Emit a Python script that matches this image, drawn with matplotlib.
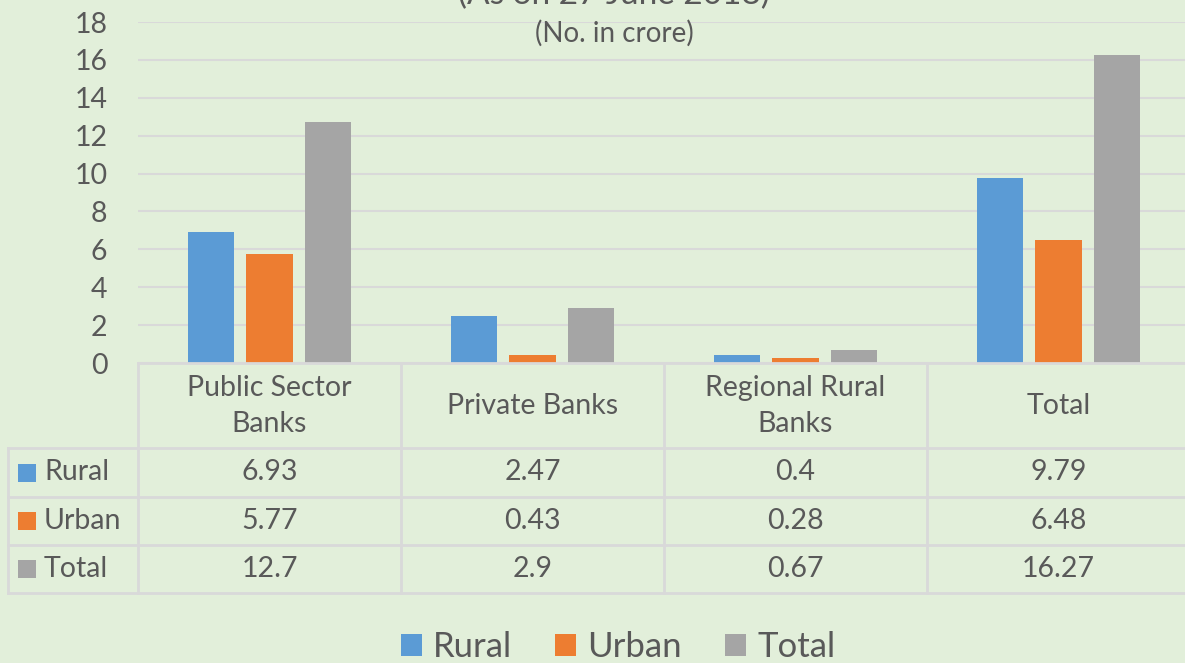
import matplotlib.pyplot as plt
from matplotlib.patches import Rectangle

# data (No. in crore)
categories = ["Public Sector\nBanks", "Private Banks", "Regional Rural\nBanks", "Total"]
series = ["Rural", "Urban", "Total"]
rural = [6.93, 2.47, 0.4, 9.79]
urban = [5.77, 0.43, 0.28, 6.48]
total = [12.7, 2.9, 0.67, 16.27]
yticks = [0, 2, 4, 6, 8, 10, 12, 14, 16, 18]
title = "(As on 27 June 2018)"
subtitle = "(No. in crore)"


def main():
    W, H = 1185, 663
    bg = "#E2EFDA"
    grid = "#D9D9D9"
    txt = "#595959"
    colors = ["#5B9BD5", "#ED7D31", "#A5A5A5"]
    values = [rural, urban, total]

    plt.rcParams['font.family'] = ['Lato', 'DejaVu Sans']

    fig = plt.figure(figsize=(W / 100, H / 100), dpi=100, facecolor=bg)

    # --- bar chart area ---
    ax = fig.add_axes([138 / W, (H - 363) / H, 1052 / W, (363 - 22) / H])
    ax.set_facecolor("none")
    x = range(len(categories))
    offsets = [-0.222, 0.0, 0.222]
    for vals, off, c, name in zip(values, offsets, colors, series):
        ax.bar([i + off for i in x], vals, width=0.175, color=c, label=name, zorder=3)
    ax.set_xlim(-0.5, 3.5)
    ax.set_ylim(0, 18)
    ax.set_yticks(yticks)
    ax.set_yticklabels([str(t) for t in yticks], fontsize=20.5, color=txt)
    ax.tick_params(axis='y', length=0, pad=22)
    ax.set_xticks([])
    for s in ax.spines.values():
        s.set_visible(False)
    ax.grid(axis='y', color=grid, linewidth=1.5, zorder=0)

    # --- data table under the chart (y in image pixels) ---
    tax = fig.add_axes([138 / W, (H - 593) / H, 1052 / W, 230 / H])
    tax.set_facecolor("none")
    tax.set_xlim(-0.5, 3.5)
    tax.set_ylim(593, 363)
    tax.axis('off')

    def px(p):
        return -0.5 + (p - 138) / 263.0

    lc = dict(color=grid, linewidth=2, clip_on=False)
    tax.plot([-0.5, 3.55], [363, 363], **lc)
    for yy in [448, 497, 545, 593]:
        tax.plot([px(8), 3.55], [yy, yy], **lc)
    for xx in [-0.5, 0.5, 1.5, 2.5]:
        tax.plot([xx, xx], [363, 593], **lc)
    tax.plot([px(8), px(8)], [448, 593], **lc)

    for i, cat in enumerate(categories):
        tax.text(i, 406, cat, ha='center', va='center', fontsize=20.5,
                 color=txt, linespacing=1.45, clip_on=False)

    row_y = [472.5, 521, 569]
    for name, vals, c, yy in zip(series, values, colors, row_y):
        tax.add_patch(Rectangle((px(18), yy - 9), 18 / 263.0, 18,
                                facecolor=c, edgecolor='none', clip_on=False))
        tax.text(px(44), yy, name, ha='left', va='center', fontsize=20.5,
                 color=txt, clip_on=False)
        for i, v in enumerate(vals):
            tax.text(i, yy, f"{v:g}", ha='center', va='center', fontsize=20.5,
                     color=txt, clip_on=False)

    # titles (top one is cut off by the image edge, as in the source)
    fig.text(614 / W, (H - 4) / H, title, ha='center', va='baseline',
             fontsize=24, color=txt)
    fig.text(614 / W, (H - 33) / H, subtitle, ha='center', va='center',
             fontsize=20, color=txt)

    # legend at the bottom
    handles = [Rectangle((0, 0), 1, 1, facecolor=c, edgecolor='none') for c in colors]
    fig.legend(handles, series, loc='center', ncol=3, frameon=False,
               bbox_to_anchor=(618 / W, (H - 647) / H), fontsize=25,
               labelcolor=txt, handlelength=0.6, handleheight=0.6,
               handletextpad=0.32, columnspacing=1.25, borderpad=0)

    plt.savefig("out.png", dpi=100, facecolor=bg)


if __name__ == "__main__":
    main()
